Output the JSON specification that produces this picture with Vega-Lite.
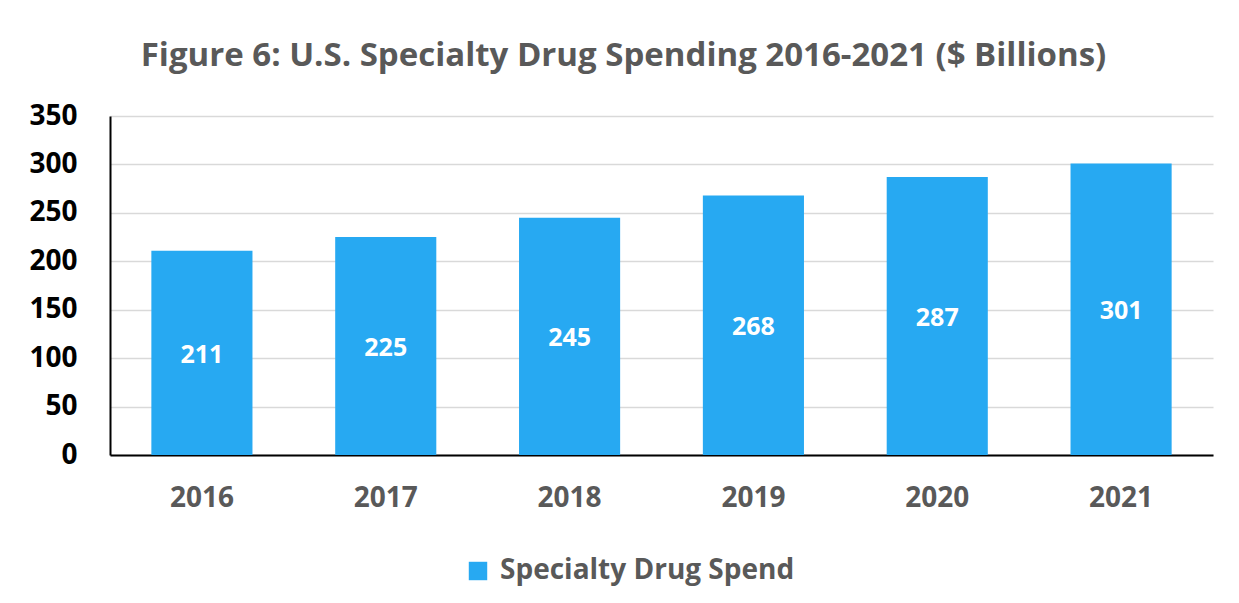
{
  "$schema": "https://vega.github.io/schema/vega-lite/v6.json",
  "width": 1103,
  "height": 339,
  "autosize": {"type": "none"},
  "padding": {"left": 110, "top": 116, "right": 26, "bottom": 148},
  "background": "white",
  "title": {
    "text": "Figure 6: U.S. Specialty Drug Spending 2016-2021 ($ Billions)",
    "font": "Open Sans",
    "fontSize": 33,
    "fontWeight": "bold",
    "color": "#595959",
    "anchor": "middle",
    "dx": -38,
    "baseline": "alphabetic",
    "offset": 3
  },
  "data": {
    "values": [
      {"year": "2016", "spend": 211},
      {"year": "2017", "spend": 225},
      {"year": "2018", "spend": 245},
      {"year": "2019", "spend": 268},
      {"year": "2020", "spend": 287},
      {"year": "2021", "spend": 301}
    ]
  },
  "encoding": {
    "x": {
      "field": "year",
      "type": "ordinal",
      "scale": {"paddingInner": 0.45, "paddingOuter": 0.225},
      "axis": {
        "title": null,
        "labelAngle": 0,
        "labelFont": "Open Sans",
        "labelFontSize": 28,
        "labelFontWeight": "bold",
        "labelColor": "#595959",
        "labelPadding": 29,
        "ticks": false,
        "domainColor": "#000000",
        "domainWidth": 2
      }
    }
  },
  "layer": [
    {
      "mark": {"type": "bar", "color": "#27A9F2"},
      "encoding": {
        "y": {
          "field": "spend",
          "type": "quantitative",
          "scale": {"domain": [0, 350]},
          "axis": {
            "title": null,
            "values": [0, 50, 100, 150, 200, 250, 300, 350],
            "labelFont": "Open Sans",
            "labelFontSize": 28,
            "labelFontWeight": "bold",
            "labelColor": "#000000",
            "labelPadding": 33,
            "ticks": false,
            "domainColor": "#000000",
            "domainWidth": 2,
            "gridColor": "#D9D9D9",
            "gridWidth": 1.5
          }
        },
        "color": {
          "datum": "Specialty Drug Spend",
          "type": "nominal",
          "scale": {"range": ["#27A9F2"]},
          "legend": {
            "title": null,
            "orient": "none",
            "legendX": 354,
            "legendY": 441,
            "symbolType": "square",
            "symbolSize": 340,
            "symbolOpacity": 1,
            "labelFont": "Open Sans",
            "labelFontSize": 28,
            "labelFontWeight": "bold",
            "labelColor": "#595959",
            "labelOffset": 8,
            "labelLimit": 500
          }
        }
      }
    },
    {
      "transform": [{"calculate": "datum.spend / 2", "as": "mid"}],
      "mark": {"type": "text", "color": "white", "font": "Open Sans", "fontSize": 25, "fontWeight": "bold", "baseline": "middle", "dy": 2},
      "encoding": {
        "y": {"field": "mid", "type": "quantitative"},
        "text": {"field": "spend", "type": "quantitative"}
      }
    }
  ],
  "config": {"view": {"stroke": null}}
}
